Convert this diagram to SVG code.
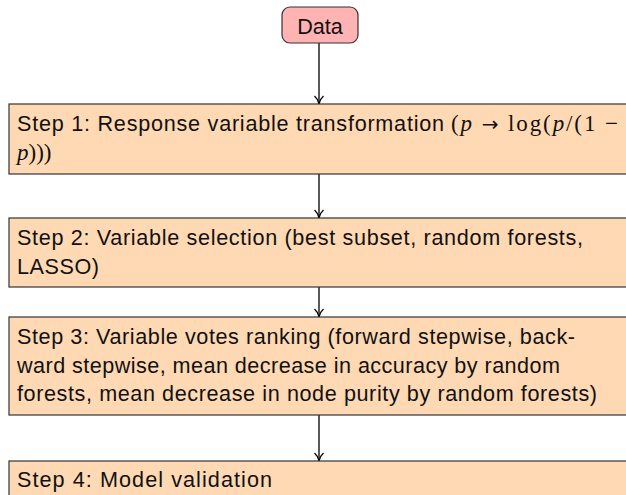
<svg xmlns="http://www.w3.org/2000/svg" width="626" height="495" viewBox="0 0 626 495">
<style>
.box{fill:#ffd9b3;stroke:#333;stroke-width:1.2}
.start{fill:#ffb3b3;stroke:#333;stroke-width:1.2}
.t{font-family:"Liberation Sans","DejaVu Sans",sans-serif;font-size:21.6px;fill:#111}
.m{font-family:"Liberation Serif","DejaVu Serif",serif;font-size:23px}
.i{font-style:italic}
.ar{font-family:"DejaVu Sans",sans-serif;font-size:20px}
.edge{stroke:#000;stroke-width:1.3;fill:none}
</style>
<defs>
<marker id="arr" markerWidth="12" markerHeight="12" refX="10" refY="6" orient="auto" markerUnits="userSpaceOnUse">
<path d="M2,1.5 Q5,5 10,6 Q5,7 2,10.5" fill="none" stroke="#000" stroke-width="1.3"/>
</marker>
</defs>
<g id="connectors">
<line class="edge" x1="319" y1="43" x2="319" y2="104" marker-end="url(#arr)"/>
<line class="edge" x1="319" y1="174" x2="319" y2="218" marker-end="url(#arr)"/>
<line class="edge" x1="319" y1="287" x2="319" y2="317" marker-end="url(#arr)"/>
<line class="edge" x1="319" y1="415" x2="319" y2="461" marker-end="url(#arr)"/>
</g>
<g id="data">
<rect class="start" x="282" y="7" width="76" height="36" rx="8" ry="8"/>
<text class="t" x="320" y="34" text-anchor="middle">Data</text>
</g>
<g id="step1">
<rect class="box" x="9" y="104" width="640" height="70"/>
<text class="t" x="17" y="131" textLength="427">Step 1:  Response variable transformation</text>
<text class="t m" x="451" y="131" textLength="167">(<tspan class="i">p</tspan> <tspan class="ar">→</tspan> log(<tspan class="i">p</tspan>/(1 −</text>
<text class="t m" x="17" y="160"><tspan class="i">p</tspan>)))</text>
</g>
<g id="step2">
<rect class="box" x="9" y="218" width="640" height="69"/>
<text class="t" x="17" y="245" textLength="566">Step 2:  Variable selection (best subset, random forests,</text>
<text class="t" x="17" y="274" textLength="82">LASSO)</text>
</g>
<g id="step3">
<rect class="box" x="9" y="317" width="640" height="98"/>
<text class="t" x="17" y="344" textLength="558">Step 3:  Variable votes ranking (forward stepwise, back-</text>
<text class="t" x="17" y="372.5" textLength="543">ward stepwise, mean decrease in accuracy by random</text>
<text class="t" x="17" y="401" textLength="580">forests, mean decrease in node purity by random forests)</text>
</g>
<g id="step4">
<rect class="box" x="9" y="461" width="640" height="50"/>
<text class="t" x="17" y="487" textLength="255">Step 4:  Model validation</text>
</g>
</svg>
